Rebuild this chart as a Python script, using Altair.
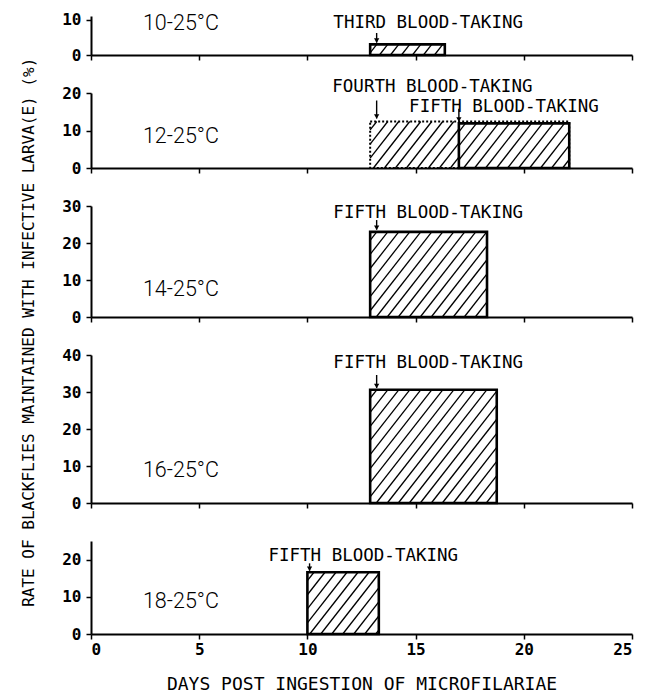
import math
import numpy as np
import pandas as pd
import altair as alt

# ---------------- data ----------------
panel_labels = ["10-25°C", "12-25°C", "14-25°C", "16-25°C", "18-25°C"]
panel_ymax = [11, 20, 30, 40, 25]
panel_yticks = [[0, 10], [0, 10, 20], [0, 10, 20, 30], [0, 10, 20, 30, 40], [0, 10, 20]]
label_x = [2.4, 2.4, 2.4, 2.4, 2.4]
label_y = [8.8, 8.2, 7.3, 8.6, 8.7]

bar_panel = [0, 1, 1, 2, 3, 4]
bar_start = [12.9, 12.9, 17.0, 12.9, 12.9, 10.0]
bar_end = [16.35, 22.1, 22.1, 18.3, 18.75, 13.3]
bar_value = [3.0, 12.4, 11.9, 23.0, 30.6, 16.6]
bar_dotted = [False, True, False, False, False, False]

note_panel = [0, 1, 1, 2, 3, 4]
note_text = ["THIRD BLOOD-TAKING", "FOURTH BLOOD-TAKING", "FIFTH BLOOD-TAKING",
             "FIFTH BLOOD-TAKING", "FIFTH BLOOD-TAKING", "FIFTH BLOOD-TAKING"]
note_x = [11.2, 11.15, 14.7, 11.2, 11.2, 8.2]
note_y = [9.0, 21.6, 16.3, 28.0, 37.8, 21.0]
arrow_x = [13.2, 13.2, 17.0, 13.2, 13.2, 10.1]
arrow_top = [6.2, 18.0, 15.8, 26.2, 34.6, 19.0]
arrow_tip = [3.5, 13.2, 12.4, 23.6, 31.1, 17.0]

x_ticks = [0, 5, 10, 15, 20, 25]

# ---------------- layout ----------------
W = 541
heights = [39, 75, 111, 148, 93]
MONO = "DejaVu Sans Mono"


def hatch_segments(a, b, h, sx, sy, spacing=11, angle=52):
    """Diagonal hatch lines inside the rectangle [a,b]x[0,h] (data units)."""
    Wp = (b - a) * sx
    Hp = h * sy
    k = 1.0 / math.tan(math.radians(angle))
    segs = []
    c = -Hp * k + spacing * 0.6
    while c < Wp:
        v_lo = max(0.0, -c / k)
        v_hi = min(Hp, (Wp - c) / k)
        if v_hi - v_lo > 0.5:
            segs.append((a + (c + k * v_lo) / sx, v_lo / sy, a + (c + k * v_hi) / sx, v_hi / sy))
        c += spacing
    return segs


bars = pd.DataFrame({"panel": bar_panel, "start": bar_start, "end": bar_end,
                     "value": bar_value, "dotted": bar_dotted})
notes = pd.DataFrame({"panel": note_panel, "text": note_text, "x": note_x, "y": note_y,
                      "ax": arrow_x, "atop": arrow_top, "atip": arrow_tip})

panels = []
n = len(panel_labels)
for i, lab in enumerate(panel_labels):
    sx = W / 25.0
    sy = heights[i] / panel_ymax[i]
    pb = bars[bars.panel == i].reset_index(drop=True)
    segs = []
    for _, r in pb.iterrows():
        hatch_end = r.end
        if r.dotted:
            later = pb[(pb.start > r.start) & (~pb.dotted)]
            if len(later):
                hatch_end = later.start.min()
        segs += hatch_segments(r.start, hatch_end, r.value, sx, sy)
    hdf = pd.DataFrame(segs, columns=["x", "y", "x2", "y2"])
    pn = notes[notes.panel == i]
    ldf = pd.DataFrame({"x": [label_x[i]], "y": [label_y[i]], "text": [lab]})

    last = i == n - 1
    xscale = alt.Scale(domain=[0, 25], nice=False, zero=False)
    yscale = alt.Scale(domain=[0, panel_ymax[i]], nice=False)
    xaxis = alt.Axis(values=x_ticks, labels=last, grid=False, labelOverlap=False,
                     title="DAYS POST INGESTION OF MICROFILARIAE" if last else None,
                     domainColor="black", domainWidth=2, tickColor="black", tickWidth=1.5,
                     tickSize=5, labelFont=MONO, labelFontSize=16, labelFontWeight="bold",
                     labelColor="black", labelPadding=2,
                     titleFont=MONO, titleFontSize=18, titleFontWeight="normal",
                     titleColor="black", titlePadding=18)
    yaxis = alt.Axis(values=panel_yticks[i], grid=False, title=None, labelOverlap=False,
                     domainColor="black", domainWidth=2, tickColor="black", tickWidth=1.5,
                     tickSize=5, labelFont=MONO, labelFontSize=16, labelFontWeight="bold",
                     labelColor="black", labelPadding=5)

    def X(f):
        return alt.X(f, type="quantitative", scale=xscale, axis=xaxis)

    def Y(f):
        return alt.Y(f, type="quantitative", scale=yscale, axis=yaxis)

    hatch = alt.Chart(hdf).mark_rule(color="black", strokeWidth=1.3).encode(
        x=X("x"), y=Y("y"), x2="x2:Q", y2="y2:Q")

    solid = alt.Chart(pb[~pb.dotted]).mark_rect(
        fillOpacity=0, stroke="black", strokeWidth=2.6).encode(
        x=X("start"), x2="end:Q", y=Y("value"), y2=alt.datum(0))

    layers = [hatch, solid]
    if pb.dotted.any():
        dotted = alt.Chart(pb[pb.dotted]).mark_rect(
            fillOpacity=0, stroke="black", strokeWidth=2, strokeDash=[2, 2]).encode(
            x=X("start"), x2="end:Q", y=Y("value"), y2=alt.datum(0))
        layers.insert(1, dotted)

    arrows = alt.Chart(pn).mark_rule(color="black", strokeWidth=1.4).encode(
        x=X("ax"), y=Y("atop"), y2="atip:Q")
    heads = alt.Chart(pn).mark_point(shape="triangle-down", filled=True, color="black",
                                     size=28, opacity=1, yOffset=-2).encode(
        x=X("ax"), y=Y("atip"))
    texts = alt.Chart(pn).mark_text(font=MONO, fontSize=17.5, align="left",
                                    baseline="middle", color="black").encode(
        x=X("x"), y=Y("y"), text="text:N")
    plab = alt.Chart(ldf).mark_text(font="Roboto", fontSize=21.5, fontWeight=300,
                                    align="left", baseline="middle", color="black").encode(
        x=X("x"), y=Y("y"), text="text:N")

    layers += [arrows, heads, texts, plab]
    panels.append(alt.layer(*layers).properties(width=W, height=heights[i]))

chart = alt.vconcat(*panels, spacing=38, bounds="flush", background="white").properties(
    title=alt.TitleParams(
        text="RATE OF BLACKFLIES MAINTAINED WITH INFECTIVE LARVA(E) (%)",
        orient="left", anchor="middle", font=MONO, fontSize=16,
        fontWeight="normal", color="black", offset=25, dx=20),
    padding={"left": 12, "top": 3, "right": 5, "bottom": 2},
).configure_view(strokeWidth=0, stroke="transparent").configure_axis(grid=False)

chart.save("out.html", embed_options={"renderer": "svg", "actions": False})
